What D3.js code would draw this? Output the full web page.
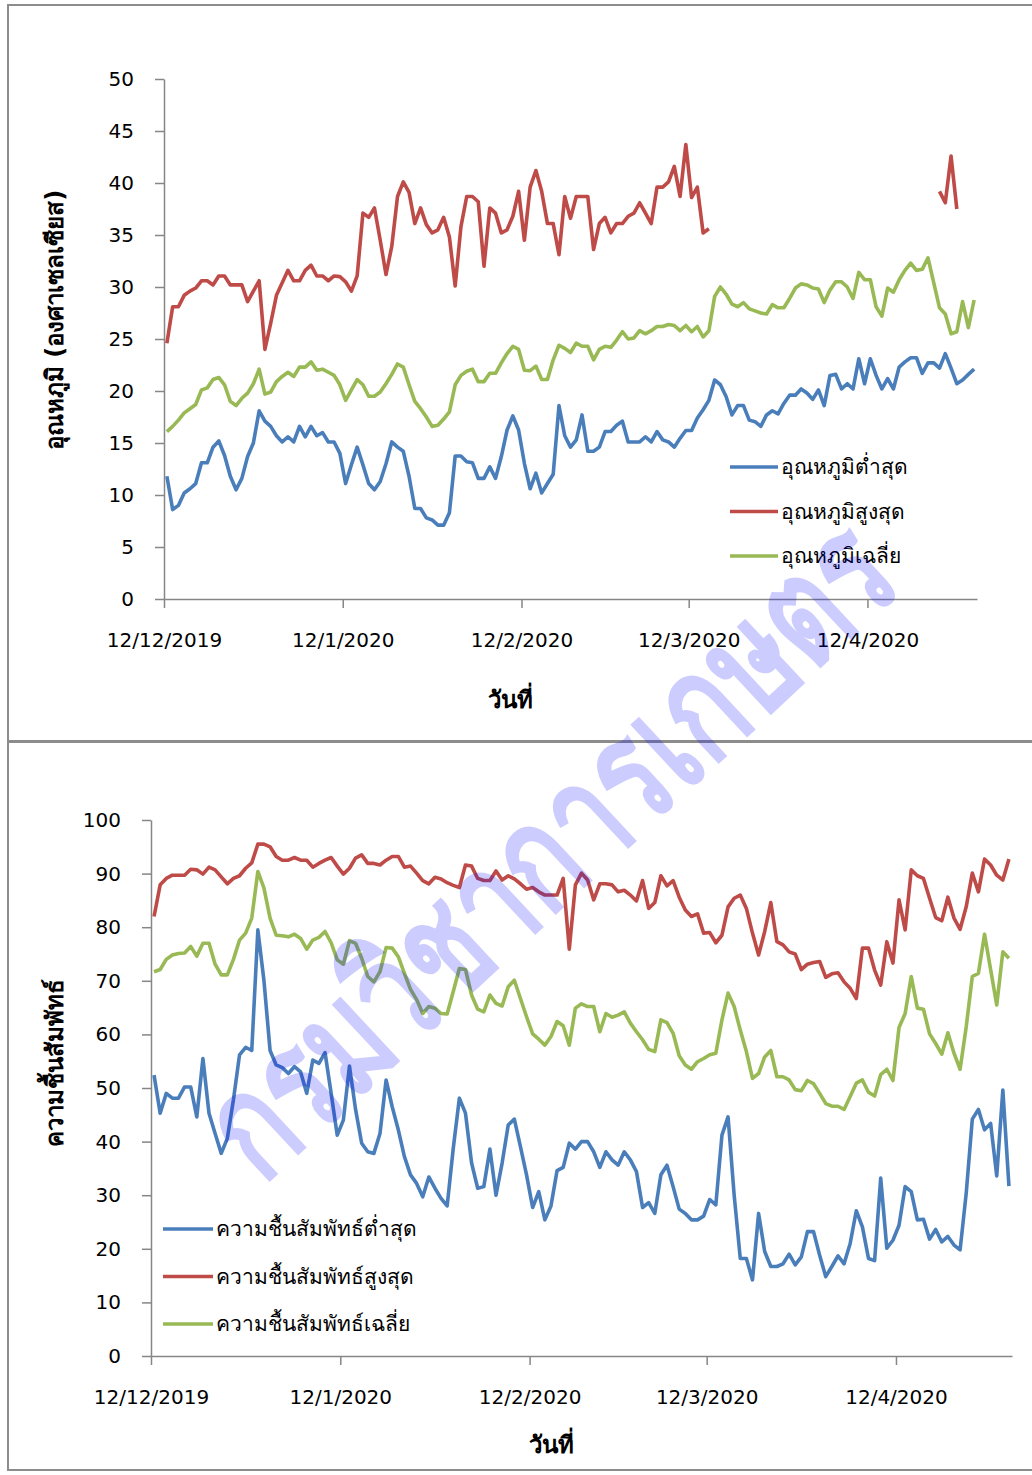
<!DOCTYPE html>
<html>
<head>
<meta charset="utf-8">
<script src="https://cdn.jsdelivr.net/npm/d3@7/dist/d3.min.js"></script>
<style>
  body { margin: 0; background: #fff; }
  svg { display: block; }
</style>
</head>
<body>
<script>
// วันที่ : 12/12/2019 - 30/4/2020 (ข้อมูลรายวัน)
const firstDay = new Date(Date.UTC(2019, 11, 12));
const lastDay = new Date(Date.UTC(2020, 3, 30));
const days = d3.utcDay.range(firstDay, d3.utcDay.offset(lastDay, 1));

const tickDates = ['2019-12-12', '2020-01-12', '2020-02-12', '2020-03-12', '2020-04-12'];
const tempTicks = [0, 5, 10, 15, 20, 25, 30, 35, 40, 45, 50];
const rhTicks = [0, 10, 20, 30, 40, 50, 60, 70, 80, 90, 100];

const tempNames = ['อุณหภูมิต่ำสุด', 'อุณหภูมิสูงสุด', 'อุณหภูมิเฉลี่ย'];
const rhNames = ['ความชื้นสัมพัทธ์ต่ำสุด', 'ความชื้นสัมพัทธ์สูงสุด', 'ความชื้นสัมพัทธ์เฉลี่ย'];

// อุณหภูมิ (องศาเซลเซียส)
const tempMin = [
  11.8, 8.6, 9.0, 10.2, 10.6, 11.1, 13.1, 13.1, 14.6, 15.2,
  13.8, 11.8, 10.5, 11.6, 13.7, 15.0, 18.1, 17.1, 16.6, 15.7,
  15.1, 15.6, 15.1, 16.6, 15.6, 16.6, 15.7, 16.0, 15.1, 15.1,
  14.0, 11.1, 12.9, 14.6, 12.9, 11.1, 10.5, 11.3, 13.0, 15.1,
  14.6, 14.2, 11.8, 8.7, 8.7, 7.8, 7.6, 7.1, 7.1, 8.3,
  13.75, 13.75, 13.2, 13.1, 11.6, 11.6, 12.7, 11.6, 13.7, 16.25,
  17.6, 16.25, 13.05, 10.6, 12.1, 10.2, 11.1, 12.0, 18.6, 15.7,
  14.6, 15.3, 17.7, 14.2, 14.2, 14.6, 16.1, 16.1, 16.7, 17.1,
  15.1, 15.1, 15.1, 15.6, 15.1, 16.1, 15.3, 15.1, 14.6, 15.45,
  16.2, 16.2, 17.4, 18.2, 19.1, 21.06, 20.6, 19.45, 17.7, 18.6,
  18.6, 17.2, 17.05, 16.6, 17.7, 18.1, 17.8, 18.8, 19.6, 19.6,
  20.2, 19.8, 19.2, 20.1, 18.6, 21.5, 21.6, 20.2, 20.7, 20.2,
  23.1, 20.7, 23.1, 21.5, 20.2, 21.2, 20.2, 22.3, 22.8, 23.2,
  23.2, 21.7, 22.7, 22.7, 22.2, 23.6, 22.2, 20.7, 21.06, 21.6,
  22.1
];
const tempMax = [
  24.6, 28.1, 28.1, 29.2, 29.6, 29.9, 30.6, 30.6, 30.2, 31.06,
  31.06, 30.2, 30.2, 30.2, 28.6, 29.6, 30.6, 24.0, 26.5, 29.2,
  30.4, 31.6, 30.6, 30.6, 31.6, 32.1, 31.06, 31.06, 30.6, 31.06,
  31.0, 30.5, 29.6, 31.06, 37.1, 36.7, 37.6, 34.5, 31.2, 33.9,
  38.7, 40.1, 39.1, 36.1, 37.6, 36.0, 35.2, 35.5, 36.7, 34.8,
  30.1, 35.8, 38.7, 38.7, 38.2, 32.0, 37.6, 37.1, 35.2, 35.5,
  36.8, 39.2, 34.5, 39.6, 41.2, 39.2, 36.1, 36.1, 33.1, 38.7,
  36.6, 38.7, 38.7, 38.7, 33.6, 36.1, 36.7, 35.2, 36.1, 36.1,
  36.8, 37.1, 38.1, 37.1, 36.1, 39.6, 39.6, 40.1, 41.6, 38.7,
  43.7, 38.6, 39.6, 35.2, 35.6, null, null, null, null, null,
  null, null, null, null, null, null, null, null, null, null,
  null, null, null, null, null, null, null, null, null, null,
  null, null, null, null, null, null, null, null, null, null,
  null, null, null, null, 39.2, 38.1, 42.6, 37.5, null, null,
  null
];
const tempAvg = [
  16.1, 16.6, 17.2, 17.9, 18.3, 18.7, 20.1, 20.3, 21.1, 21.3,
  20.6, 19.0, 18.6, 19.3, 19.8, 20.7, 22.1, 19.7, 19.9, 20.9,
  21.4, 21.8, 21.4, 22.3, 22.3, 22.8, 22.0, 22.1, 21.8, 21.5,
  20.6, 19.1, 20.1, 21.1, 20.6, 19.5, 19.5, 19.9, 20.7, 21.6,
  22.6, 22.3, 20.6, 19.0, 18.3, 17.5, 16.6, 16.7, 17.3, 18.0,
  20.6, 21.5, 21.9, 22.1, 20.9, 20.9, 21.7, 21.7, 22.7, 23.6,
  24.3, 24.0, 22.0, 21.95, 22.4, 21.1, 21.1, 23.0, 24.4, 24.1,
  23.7, 24.6, 24.3, 24.3, 23.0, 24.0, 24.3, 24.2, 24.9, 25.7,
  25.0, 25.1, 25.8, 25.5, 25.8, 26.2, 26.2, 26.4, 26.3, 25.8,
  26.3, 25.7, 26.2, 25.2, 25.8, 29.1, 30.0, 29.3, 28.35, 28.1,
  28.5, 27.9, 27.7, 27.5, 27.4, 28.3, 28.0, 28.0, 28.9, 29.9,
  30.3, 30.2, 29.9, 29.8, 28.5, 29.7, 30.5, 30.5, 30.0, 28.9,
  31.4, 30.7, 30.7, 28.1, 27.2, 29.9, 29.5, 30.7, 31.6, 32.3,
  31.6, 31.7, 32.8, 30.4, 28.0, 27.4, 25.5, 25.7, 28.6, 26.1,
  28.75
];

// ความชื้นสัมพัทธ์ (%)
const rhMin = [
  52.4, 45.3, 49.0, 48.1, 48.1, 50.2, 50.2, 44.6, 55.5, 45.3,
  41.5, 37.8, 40.6, 47.8, 56.2, 57.6, 57.0, 79.5, 70.0, 57.0,
  54.3, 53.8, 52.7, 54.0, 53.0, 49.0, 55.2, 54.6, 56.6, 49.0,
  41.2, 44.0, 54.1, 46.0, 39.7, 38.1, 37.8, 41.5, 51.5, 46.5,
  42.2, 37.2, 33.8, 32.2, 29.7, 33.4, 31.3, 29.4, 28.0, 38.75,
  48.1, 45.3, 36.0, 31.3, 31.6, 38.6, 30.0, 36.0, 43.1, 44.2,
  39.05, 33.8, 27.7, 30.65, 25.4, 28.0, 34.6, 35.2, 39.7, 38.6,
  40.0, 40.0, 38.1, 35.2, 38.1, 36.6, 35.6, 38.1, 36.6, 34.4,
  27.7, 28.6, 26.6, 33.8, 35.6, 31.6, 27.4, 26.6, 25.4, 25.4,
  26.1, 29.2, 28.2, 41.2, 44.6, 30.0, 18.2, 18.2, 14.2, 26.6,
  19.5, 16.7, 16.7, 17.2, 19.0, 17.0, 18.5, 23.2, 23.2, 18.8,
  14.8, 16.7, 18.7, 17.2, 21.0, 27.1, 24.1, 18.2, 17.8, 33.2,
  20.1, 21.6, 24.4, 31.6, 30.65, 25.4, 25.5, 21.8, 23.6, 21.3,
  22.3, 20.7, 19.8, 30.35, 44.2, 46.0, 42.2, 43.4, 33.6, 49.6,
  31.7
];
const rhMax = [
  82.0, 87.9, 89.1, 89.7, 89.7, 89.7, 90.8, 90.7, 89.9, 91.2,
  90.7, 89.4, 88.1, 89.1, 89.6, 91.0, 92.0, 95.5, 95.5, 95.0,
  93.2, 92.5, 92.5, 93.0, 92.5, 92.5, 91.2, 91.9, 92.5, 93.0,
  91.4, 89.9, 91.0, 92.9, 93.5, 91.9, 91.9, 91.6, 92.5, 93.2,
  93.2, 91.2, 91.4, 90.1, 88.7, 88.1, 89.3, 89.0, 88.3, 87.8,
  87.4, 91.6, 91.4, 89.1, 88.7, 88.7, 90.5, 88.8, 89.6, 89.0,
  88.1, 87.1, 87.4, 86.6, 86.0, 86.0, 86.0, 89.1, 75.9, 87.9,
  90.1, 88.8, 85.1, 88.1, 88.1, 87.9, 86.6, 86.9, 86.0, 84.9,
  88.7, 83.5, 84.6, 89.6, 87.7, 88.7, 85.6, 83.2, 82.0, 82.5,
  78.9, 79.0, 77.1, 78.5, 83.8, 85.4, 86.0, 83.5, 78.9, 74.8,
  79.2, 84.6, 77.3, 76.7, 75.4, 75.0, 72.1, 73.1, 73.4, 73.6,
  70.65, 71.3, 71.5, 69.8, 68.6, 66.7, 76.1, 76.1, 72.0, 69.2,
  77.3, 73.3, 85.1, 79.5, 90.7, 89.6, 89.1, 85.4, 81.8, 81.2,
  85.6, 81.7, 79.6, 83.8, 90.1, 86.6, 92.7, 91.6, 89.7, 88.8,
  92.7
];
const rhAvg = [
  71.7, 72.1, 74.0, 74.8, 75.1, 75.2, 76.4, 74.6, 77.0, 77.0,
  73.1, 71.1, 71.1, 74.0, 77.6, 78.9, 81.7, 90.4, 87.3, 81.7,
  78.5, 78.4, 78.2, 78.7, 77.9, 75.9, 77.6, 78.1, 79.2, 77.1,
  73.9, 73.1, 77.5, 77.0, 74.2, 70.8, 69.8, 71.7, 76.2, 76.1,
  74.5, 71.4, 68.4, 66.5, 63.9, 65.2, 64.9, 63.9, 63.8, 68.0,
  72.3, 72.1, 67.35, 64.7, 64.2, 67.35, 65.8, 65.3, 68.9, 70.1,
  66.7, 63.3, 60.1, 59.1, 58.0, 59.6, 62.4, 61.6, 58.0, 64.9,
  65.7, 65.2, 65.2, 60.5, 63.9, 63.2, 63.6, 64.2, 62.1, 60.5,
  59.0, 57.2, 56.8, 62.7, 62.2, 60.2, 56.0, 54.3, 53.5, 54.9,
  55.5, 56.2, 56.5, 62.7, 67.7, 65.2, 60.8, 56.8, 51.8, 52.7,
  55.8, 57.0, 52.1, 52.1, 51.5, 49.7, 49.5, 51.4, 50.8, 49.0,
  47.1, 46.6, 46.6, 46.0, 48.4, 50.9, 51.5, 49.2, 48.5, 52.5,
  53.5, 51.4, 61.3, 63.9, 70.8, 64.9, 64.7, 60.1, 58.3, 56.3,
  60.3, 56.5, 53.5, 61.4, 70.8, 71.4, 78.7, 72.1, 65.5, 75.4,
  74.2
];

const colors = ['#4a7ebb', '#be4b48', '#98b954'];
const font = 'Tahoma, "DejaVu Sans", sans-serif';

const width = 1032, height = 1475;
const svg = d3.select('body').append('svg')
  .attr('width', width)
  .attr('height', height);

// กรอบของแต่ละแผนภูมิ
svg.append('rect').attr('x', 8).attr('y', 5).attr('width', 1040).attr('height', 736)
  .attr('fill', 'none').attr('stroke', '#8c8c8c').attr('stroke-width', 2);
svg.append('rect').attr('x', 8).attr('y', 742).attr('width', 1040).attr('height', 728)
  .attr('fill', 'none').attr('stroke', '#8c8c8c').attr('stroke-width', 2);
svg.append('line').attr('x1', 8).attr('x2', 1032).attr('y1', 741.5).attr('y2', 741.5)
  .attr('stroke', '#8c8c8c').attr('stroke-width', 3);

function drawPanel(p) {
  const x = d3.scaleUtc()
    .domain([firstDay, d3.utcDay.offset(lastDay, 1)])
    .range([p.left, p.right]);
  const y = d3.scaleLinear().domain([0, p.yMax]).range([p.bottom, p.top]);
  const half = 12 * 3600 * 1000;

  const g = svg.append('g');

  // แกน y
  const ya = g.append('g')
    .attr('transform', 'translate(' + p.left + ',0)')
    .call(d3.axisLeft(y).tickValues(p.yTicks).tickSize(9).tickPadding(21).tickSizeOuter(0));

  // แกน x
  const xa = g.append('g')
    .attr('transform', 'translate(0,' + p.bottom + ')')
    .call(d3.axisBottom(x)
      .tickValues(tickDates.map(d => new Date(d + 'T00:00:00Z')))
      .tickFormat(d3.utcFormat('%-d/%-m/%Y'))
      .tickSize(9).tickPadding(25).tickSizeOuter(0));

  [ya, xa].forEach(a => {
    a.selectAll('.domain').attr('stroke', '#868686').attr('stroke-width', 1.5);
    a.selectAll('.tick line').attr('stroke', '#868686').attr('stroke-width', 1.5);
    a.selectAll('.tick text').attr('fill', '#000').style('font-family', font).style('font-size', '20px');
  });

  // เส้นข้อมูล
  const line = d3.line()
    .defined(d => d[1] != null)
    .x(d => x(new Date(d[0].getTime() + half)))
    .y(d => y(d[1]));

  p.series.forEach((s, i) => {
    g.append('path')
      .datum(days.map((d, j) => [d, s[j]]))
      .attr('fill', 'none')
      .attr('stroke', colors[i])
      .attr('stroke-width', 3.6)
      .attr('stroke-linejoin', 'round')
      .attr('d', line);
  });

  // คำอธิบาย
  const lg = g.append('g');
  p.names.forEach((n, i) => {
    const ly = p.legendY + i * p.legendStep;
    lg.append('line')
      .attr('x1', p.legendX).attr('x2', p.legendX + p.legendLen)
      .attr('y1', ly).attr('y2', ly)
      .attr('stroke', colors[i]).attr('stroke-width', 3.6);
    lg.append('text')
      .attr('x', p.legendX + p.legendLen + 3).attr('y', ly)
      .attr('dy', '0.35em')
      .style('font-family', font).style('font-size', '21px')
      .text(n);
  });

  // ชื่อแกน
  g.append('text')
    .attr('transform', 'translate(' + p.yTitleX + ',' + p.yTitleY + ') rotate(-90)')
    .attr('text-anchor', 'middle').attr('dy', '0.35em')
    .style('font-family', font).style('font-size', '24px').style('font-weight', 'bold')
    .text(p.yTitle);
  g.append('text')
    .attr('x', p.xTitleX).attr('y', p.xTitleY)
    .attr('text-anchor', 'middle').attr('dy', '0.35em')
    .style('font-family', font).style('font-size', '24px').style('font-weight', 'bold')
    .text('วันที่');
}

drawPanel({
  left: 164, right: 977, top: 79, bottom: 599, yMax: 50, yTicks: tempTicks,
  series: [tempMin, tempMax, tempAvg], names: tempNames,
  legendX: 730, legendLen: 48, legendY: 467, legendStep: 44.5,
  yTitle: 'อุณหภูมิ (องศาเซลเซียส)', yTitleX: 55, yTitleY: 320,
  xTitleX: 510, xTitleY: 700
});

drawPanel({
  left: 151, right: 1012, top: 820, bottom: 1356, yMax: 100, yTicks: rhTicks,
  series: [rhMin, rhMax, rhAvg], names: rhNames,
  legendX: 163, legendLen: 50, legendY: 1229, legendStep: 47.5,
  yTitle: 'ความชื้นสัมพัทธ์', yTitleX: 55, yTitleY: 1063,
  xTitleX: 551, xTitleY: 1445
});

// ลายน้ำ
svg.append('text')
  .attr('transform', 'translate(548,848) rotate(-43)')
  .attr('text-anchor', 'middle').attr('dy', '0.35em')
  .attr('textLength', 880).attr('lengthAdjust', 'spacingAndGlyphs')
  .attr('fill', 'rgba(0,0,255,0.2)')
  .style('font-family', font).style('font-size', '150px').style('font-weight', 'bold')
  .text('กรมวิชาการเกษตร');
</script>
</body>
</html>
